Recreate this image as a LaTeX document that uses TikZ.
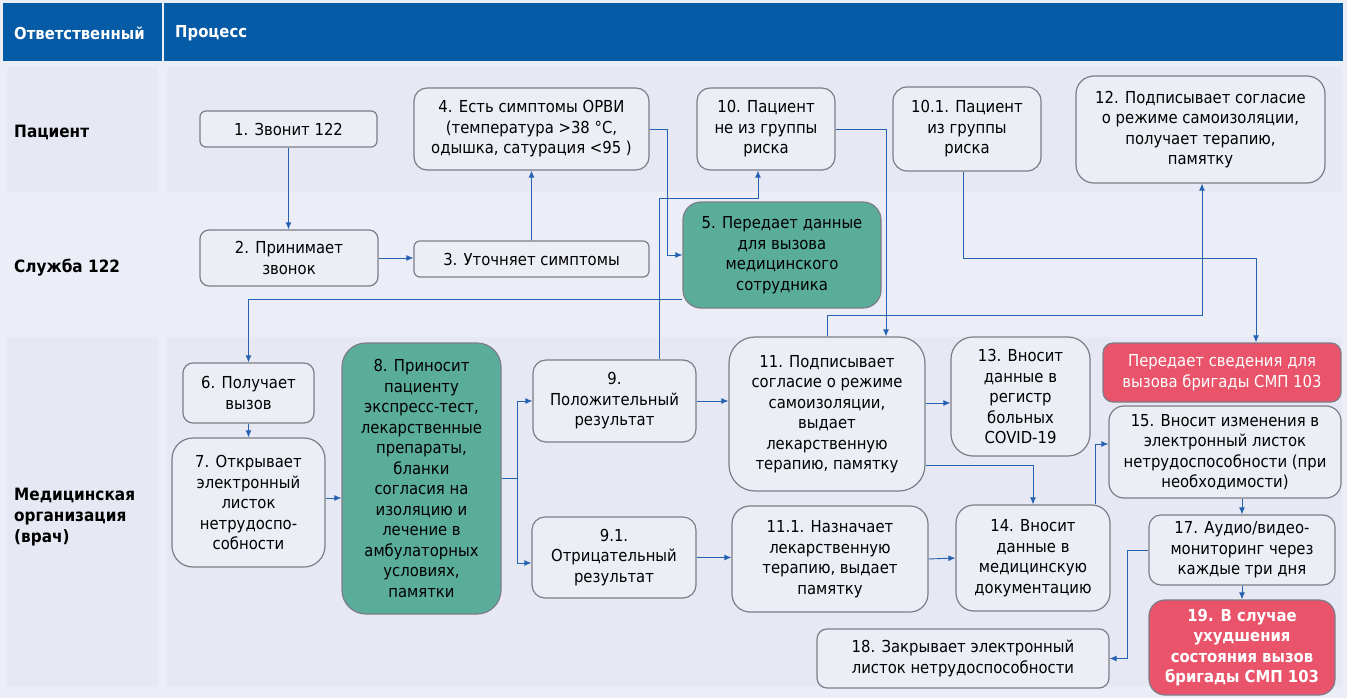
\documentclass[tikz,border=0pt]{standalone}
\usepackage{fontspec}
\setmainfont{DejaVu Sans Condensed}
\usetikzlibrary{arrows.meta}
\definecolor{headblue}{RGB}{5, 91, 166}
\definecolor{pagebg}{RGB}{235, 238, 247}
\definecolor{bandbg}{RGB}{230, 233, 243}
\definecolor{boxfill}{RGB}{236, 238, 246}
\definecolor{boxline}{RGB}{125, 125, 135}
\definecolor{flowblue}{RGB}{38, 98, 178}
\definecolor{medgreen}{RGB}{89, 173, 153}
\definecolor{alertred}{RGB}{233, 84, 107}

\begin{document}
\begin{tikzpicture}[x=1pt, y=-1pt,
  pbox/.style={draw=boxline, line width=1.2pt, fill=boxfill, rounded corners=#1, align=center, inner sep=1pt, font=\fontsize{16.5}{20.5}\selectfont},
  pbox/.default=10pt,
  rowlabel/.style={anchor=west, inner sep=0pt, align=left, font=\fontsize{17}{21}\selectfont\bfseries},
  headlabel/.style={anchor=west, inner sep=0pt, text=white, font=\fontsize{16.5}{18}\selectfont\bfseries},
  flow/.style={draw=flowblue, line width=0.9pt, -{Latex[length=7pt, width=6pt]}}]
  \useasboundingbox (0,0) rectangle (1347,698);
  \fill[pagebg] (0,0) rectangle (1347,698);

  % Header
  \fill[headblue] (3,3) rectangle (162,61);
  \fill[headblue] (164,3) rectangle (1343,61);
  \node[headlabel] (hresp) at (14,33) {Ответственный};
  \node[headlabel] (hproc) at (175,33) {Процесс};

  % Row bands
  \fill[bandbg] (7,67) rectangle (158,192);
  \fill[bandbg] (167,67) rectangle (1342,192);
  \fill[bandbg] (7,337) rectangle (158,687);
  \fill[bandbg] (167,337) rectangle (1342,687);

  \node[rowlabel] (lpat) at (14,132) {Пациент};
  \node[rowlabel] (lsrv) at (14,268) {Служба 122};
  \node[rowlabel] (lmed) at (14,517) {Медицинская\\организация\\(врач)};

  % Patient row
  \node[pbox=6pt, minimum width=177, minimum height=36] (s1) at (288.5,129) {1. Звонит 122};
  \node[pbox=13pt, minimum width=235, minimum height=82] (s4) at (531.5,129) {4. Есть симптомы ОРВИ\\(температура >38 °C,\\одышка, сатурация <95 )};
  \node[pbox=13pt, minimum width=138, minimum height=82] (s10) at (766,129) {10. Пациент\\не из группы\\риска};
  \node[pbox=14pt, minimum width=148, minimum height=84] (s101) at (967,129) {10.1. Пациент\\из группы\\риска};
  \node[pbox=18pt, minimum width=249, minimum height=107] (s12) at (1200.5,129.5) {12. Подписывает согласие\\о режиме самоизоляции,\\получает терапию,\\памятку};

  % Service 122 row
  \node[pbox=9pt, minimum width=178, minimum height=56] (s2) at (289,258) {2. Принимает\\звонок};
  \node[pbox=6pt, minimum width=235, minimum height=36] (s3) at (531.5,259) {3. Уточняет симптомы};
  \node[pbox=18pt, fill=medgreen, minimum width=198, minimum height=106] (s5) at (782,255) {5. Передает данные\\для вызова\\медицинского\\сотрудника};

  % Medical organisation row
  \node[pbox=10pt, minimum width=131, minimum height=60] (s6) at (248.5,393) {6. Получает\\вызов};
  \node[pbox=21pt, minimum width=153, minimum height=129] (s7) at (248.5,502.5) {7. Открывает\\электронный\\листок\\нетрудоспо-\\собности};
  \node[pbox=24pt, fill=medgreen, minimum width=159, minimum height=271] (s8) at (421.5,478.5) {8. Приносит\\пациенту\\экспресс-тест,\\лекарственные\\препараты,\\бланки\\согласия на\\изоляцию и\\лечение в\\амбулаторных\\условиях,\\памятки};
  \node[pbox=13pt, minimum width=163, minimum height=82] (s9) at (614.5,401) {9.\\Положительный\\результат};
  \node[pbox=13pt, minimum width=164, minimum height=81] (s91) at (614,557.5) {9.1.\\Отрицательный\\результат};
  \node[pbox=26pt, minimum width=196, minimum height=154] (s11) at (827,414) {11. Подписывает\\согласие о режиме\\самоизоляции,\\выдает\\лекарственную\\терапию, памятку};
  \node[pbox=18pt, minimum width=196, minimum height=106] (s111) at (830,559) {11.1. Назначает\\лекарственную\\терапию, выдает\\памятку};
  \node[pbox=22pt, minimum width=139, minimum height=119] (s13) at (1020.5,396.5) {13. Вносит\\данные в\\регистр\\больных\\COVID-19};
  \node[pbox=18pt, minimum width=154, minimum height=106] (s14) at (1033,558) {14. Вносит\\данные в\\медицинскую\\документацию};
  \node[pbox=10pt, fill=alertred, text=white, minimum width=238, minimum height=59] (smp) at (1222,372.5) {Передает сведения для\\вызова бригады СМП 103};
  \node[pbox=15pt, minimum width=232, minimum height=92] (s15) at (1225,452) {15. Вносит изменения в\\электронный листок\\нетрудоспособности (при\\необходимости)};
  \node[pbox=12pt, minimum width=186, minimum height=70] (s17) at (1242,550) {17. Аудио/видео-\\мониторинг через\\каждые три дня};
  \node[pbox=16pt, fill=alertred, text=white, font=\fontsize{16.5}{20.5}\selectfont\bfseries, minimum width=186, minimum height=95] (s19) at (1242,647.5) {19. В случае\\ухудшения\\состояния вызов\\бригады СМП 103};
  \node[pbox=10pt, minimum width=292, minimum height=59] (s18) at (963,658.5) {18. Закрывает электронный\\листок нетрудоспособности};

  % Connectors
  \draw[flow] (s1.south) -- (s1.south |- s2.north);
  \draw[flow] (s2.east) -- (s2.east -| s3.west);
  \draw[flow] (s3.north) -- (s4.south);
  \draw[flow] (s4.east) -- ++(18,0) |- (s5.west);
  \draw[flow] ([xshift=44.5pt]s9.north) |- ([xshift=-8pt, yshift=-28pt]s10.south) -- ([xshift=-8pt]s10.south);
  \draw[flow] (s10.east) -| ([xshift=59pt]s11.north);
  \draw[flow] (s11.north) -- ++(0,-21) -| ([xshift=1.5pt]s12.south);
  \draw[flow] ([xshift=-4pt]s101.south) -- ++(0,87) -| ([xshift=34pt]smp.north);
  \draw[flow] ([yshift=-44pt]s5.west) -| (s6.north);
  \draw[flow] (s6.south) -- (s7.north);
  \draw[flow] ([yshift=4.5pt]s7.east) -- ([yshift=4.5pt]s7.east -| s8.west);
  \draw[flow] (s8.east) -- ++(16,0) |- (s9.west);
  \draw[flow] (s8.east) -- ++(16,0) |- ([yshift=-5.5pt]s91.west);
  \draw[flow] (s9.east) -- (s11.west |- s9.east);
  \draw[flow] (s91.east) -- (s111.west |- s91.east);
  \draw[flow] ([yshift=11pt]s11.east) -- ([yshift=11pt]s11.east -| s13.west);
  \draw[flow] ([yshift=-51pt]s11.east) -| (s14.north);
  \draw[flow] (s111.east) -- (s14.west);
  \draw[flow] ([xshift=62pt]s14.north) |- ([yshift=8pt]s15.west);
  \draw[flow] (s17.north |- s15.south) -- (s17.north);
  \draw[flow] (s17.south) -- (s19.north);
  \draw[flow] (s17.west) -- ++(-21,0) |- (s18.east);
\end{tikzpicture}
\end{document}
